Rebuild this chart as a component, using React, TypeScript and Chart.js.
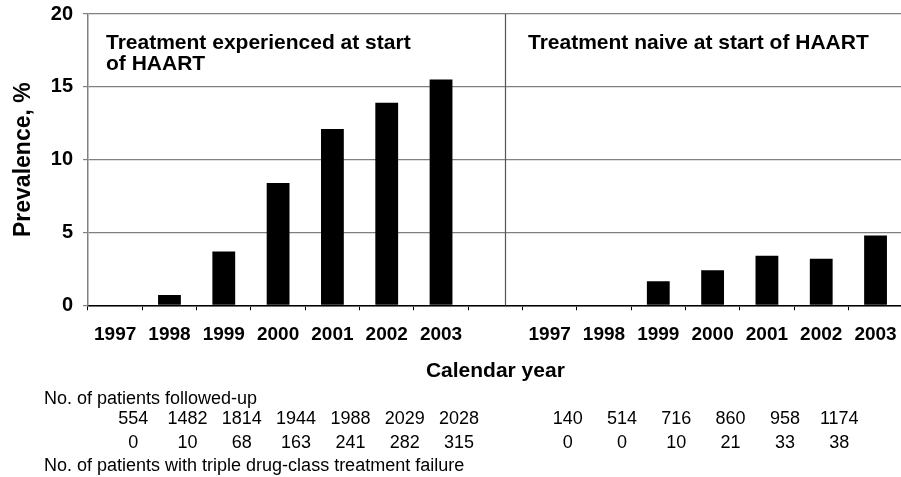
import React, { useEffect, useRef } from "react";
import { Chart, registerables } from "chart.js";

Chart.register(...registerables);

const years = ["1997", "1998", "1999", "2000", "2001", "2002", "2003"];
const categories = [...years, "", ...years];
const experiencedPrevalence = [0, 0.7, 3.7, 8.4, 12.1, 13.9, 15.5];
const naivePrevalence = [0, 0, 1.65, 2.4, 3.4, 3.2, 4.8];
const experiencedFollowed = [554, 1482, 1814, 1944, 1988, 2029, 2028];
const experiencedFailures = [0, 10, 68, 163, 241, 282, 315];
const naiveFollowed = [140, 514, 716, 860, 958, 1174];
const naiveFailures = [0, 0, 10, 21, 33, 38];
const panelTitleLeft = ["Treatment experienced at start", "of HAART"];
const panelTitleRight = "Treatment naive at start of HAART";
const followedLabel = "No. of patients followed-up";
const failureLabel = "No. of patients with triple drug-class treatment failure";
const dividerIndex = 7.175;

const FONT = '"Liberation Sans", Arial, sans-serif';

const values = [...experiencedPrevalence, null, ...naivePrevalence];

const extrasPlugin = {
  id: "extras",
  afterDatasetsDraw(chart: any) {
    const { ctx, chartArea, scales } = chart;
    const x = scales.x;
    const dx = Math.round(x.getPixelForValue(dividerIndex)) + 0.5;
    ctx.save();
    ctx.strokeStyle = "#555555";
    ctx.lineWidth = 1.2;
    ctx.beginPath();
    ctx.moveTo(dx, chartArea.top);
    ctx.lineTo(dx, chartArea.bottom);
    ctx.stroke();
    ctx.restore();
  },
  afterDraw(chart: any) {
    const { ctx, scales } = chart;
    const x = scales.x;
    ctx.save();
    ctx.fillStyle = "#000";
    ctx.textBaseline = "middle";
    ctx.font = `bold 21px ${FONT}`;
    ctx.textAlign = "left";
    ctx.fillText(panelTitleLeft[0], 106, 43);
    ctx.fillText(panelTitleLeft[1], 106, 64);
    ctx.fillText(panelTitleRight, 528, 43);
    ctx.font = `18px ${FONT}`;
    ctx.fillText(followedLabel, 44, 399);
    ctx.fillText(failureLabel, 44, 466);
    ctx.textAlign = "center";
    const off = 18;
    experiencedFollowed.forEach((v, i) => {
      ctx.fillText(String(v), x.getPixelForValue(i) + off, 419);
    });
    experiencedFailures.forEach((v, i) => {
      ctx.fillText(String(v), x.getPixelForValue(i) + off, 443);
    });
    ctx.save();
    ctx.beginPath();
    ctx.rect(0, 0, 862, chart.height);
    ctx.clip();
    naiveFollowed.forEach((v, i) => {
      ctx.fillText(String(v), x.getPixelForValue(i + 8) + off, 419);
    });
    naiveFailures.forEach((v, i) => {
      ctx.fillText(String(v), x.getPixelForValue(i + 8) + off, 443);
    });
    ctx.restore();
    ctx.restore();
  },
};

export default function App() {
  const ref = useRef<HTMLCanvasElement | null>(null);
  useEffect(() => {
    if (!ref.current) return;
    const chart = new Chart(ref.current, {
      type: "bar",
      data: {
        labels: categories,
        datasets: [
          {
            data: values as any,
            backgroundColor: "#000000",
            borderWidth: 0,
            categoryPercentage: 1,
            barPercentage: 0.42,
          },
        ],
      },
      options: {
        animation: false,
        responsive: false,
        maintainAspectRatio: false,
        layout: { padding: { left: 0, top: 14, right: 7.3, bottom: 0 } },
        plugins: { legend: { display: false }, tooltip: { enabled: false } },
        scales: {
          x: {
            offset: true,
            afterFit: (s: any) => {
              s.height = 171.7;
              s.paddingLeft = 0;
              s.paddingRight = 0;
            },
            grid: {
              offset: true,
              drawOnChartArea: false,
              drawTicks: true,
              tickLength: 5,
              color: "#000000",
              lineWidth: 1,
            },
            border: { color: "#000000", width: 1.5 },
            ticks: {
              color: "#000",
              font: { family: FONT, size: 19, weight: "bold" },
              padding: 13,
              maxRotation: 0,
              autoSkip: false,
            },
            title: {
              display: true,
              text: "Calendar year",
              color: "#000",
              font: { family: FONT, size: 21, weight: "bold" },
              padding: { top: 0, bottom: 93 },
            },
          },
          y: {
            min: 0,
            max: 20,
            afterFit: (s: any) => {
              s.width = 88;
              s.paddingTop = 0;
              s.paddingBottom = 0;
            },
            ticks: {
              stepSize: 5,
              color: "#000",
              font: { family: FONT, size: 20, weight: "bold" },
              padding: 10,
            },
            grid: {
              color: "#808080",
              lineWidth: 1.2,
              tickLength: 5,
            },
            border: { color: "#808080", width: 1.5 },
            title: {
              display: true,
              text: "Prevalence, %",
              color: "#000",
              font: { family: FONT, size: 23, weight: "bold" },
              padding: { top: 10, bottom: 0 },
            },
          },
        },
      },
      plugins: [extrasPlugin],
    });
    return () => chart.destroy();
  }, []);
  return (
    <div
      style={{
        position: "fixed",
        left: 0,
        top: 0,
        width: 901,
        height: 477,
        overflow: "hidden",
        background: "#fff",
      }}
    >
      <canvas ref={ref} width={910} height={477} style={{ display: "block" }} />
    </div>
  );
}
